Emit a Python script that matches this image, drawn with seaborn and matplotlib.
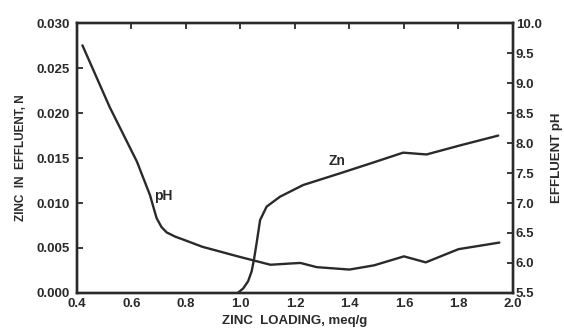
import seaborn as sns
import matplotlib.pyplot as plt
import pandas as pd
from matplotlib.ticker import FormatStrFormatter

# pH curve
ph_load = [0.42, 0.52, 0.62, 0.668, 0.692, 0.71, 0.729, 0.76, 0.79, 0.86, 0.99, 1.11,
           1.18, 1.22, 1.28, 1.40, 1.49, 1.60, 1.68, 1.80, 1.95]
ph_vals = [9.63, 8.60, 7.69, 7.13, 6.75, 6.60, 6.51, 6.44, 6.39, 6.27, 6.11, 5.97,
           5.99, 6.00, 5.93, 5.89, 5.96, 6.11, 6.01, 6.23, 6.34]

# zinc in effluent curve
zn_load = [0.99, 1.01, 1.028, 1.041, 1.05, 1.059, 1.072, 1.096, 1.145, 1.23, 1.365,
           1.487, 1.597, 1.683, 1.805, 1.946]
zn_vals = [0.0, 0.0005, 0.0013, 0.0024, 0.0038, 0.0055, 0.0081, 0.0096, 0.0107,
           0.0120, 0.0133, 0.0145, 0.0156, 0.0154, 0.0164, 0.0175]

x_ticks = [0.4, 0.6, 0.8, 1.0, 1.2, 1.4, 1.6, 1.8, 2.0]
zn_ticks = [0.000, 0.005, 0.010, 0.015, 0.020, 0.025, 0.030]
ph_ticks = [5.5, 6.0, 6.5, 7.0, 7.5, 8.0, 8.5, 9.0, 9.5, 10.0]

ph_df = pd.DataFrame({"load": ph_load, "pH": ph_vals})
zn_df = pd.DataFrame({"load": zn_load, "Zn": zn_vals})

ink = "#2a2a2a"
sns.set_style("white")
plt.rcParams["font.family"] = ["Liberation Sans", "DejaVu Sans"]
plt.rcParams["font.weight"] = "bold"

fig = plt.figure(figsize=(5.64, 3.31), dpi=100)
ax = fig.add_axes([0.1365, 0.115, 0.773, 0.815])
ax2 = ax.twinx()

sns.lineplot(data=zn_df, x="load", y="Zn", ax=ax, color=ink, linewidth=1.7)
sns.lineplot(data=ph_df, x="load", y="pH", ax=ax2, color=ink, linewidth=1.7)

ax.set_xlim(0.4, 2.0)
ax.set_ylim(0.0, 0.030)
ax2.set_ylim(5.5, 10.0)
ax.set_xticks(x_ticks)
ax.set_yticks(zn_ticks)
ax2.set_yticks(ph_ticks)
ax.yaxis.set_major_formatter(FormatStrFormatter("%.3f"))
ax2.yaxis.set_major_formatter(FormatStrFormatter("%.1f"))
ax.xaxis.set_major_formatter(FormatStrFormatter("%.1f"))

ax.tick_params(axis="both", direction="in", length=4, width=1.3, labelsize=9.5,
               top=True, colors=ink)
ax.tick_params(axis="y", pad=5)
ax.tick_params(axis="x", pad=4)
ax2.tick_params(axis="y", direction="in", length=4, width=1.3, labelsize=9.5,
                colors=ink, pad=2)
for a in (ax, ax2):
    for s in a.spines.values():
        s.set_linewidth(1.7)
        s.set_color(ink)

ax.set_xlabel("ZINC  LOADING, meq/g", fontsize=9.5, fontweight="bold", color=ink, labelpad=3)
ax.set_ylabel("ZINC  IN  EFFLUENT, N", fontsize=8.5, fontweight="bold", color=ink, labelpad=7)
ax2.set_ylabel("EFFLUENT pH", fontsize=9.5, fontweight="bold", color=ink, rotation=90, labelpad=7)

ax2.text(0.716, 7.12, "pH", fontsize=10, fontweight="bold", color=ink, ha="center", va="center")
ax.text(1.354, 0.0147, "Zn", fontsize=10, fontweight="bold", color=ink, ha="center", va="center")

fig.savefig("out.png", dpi=100)
